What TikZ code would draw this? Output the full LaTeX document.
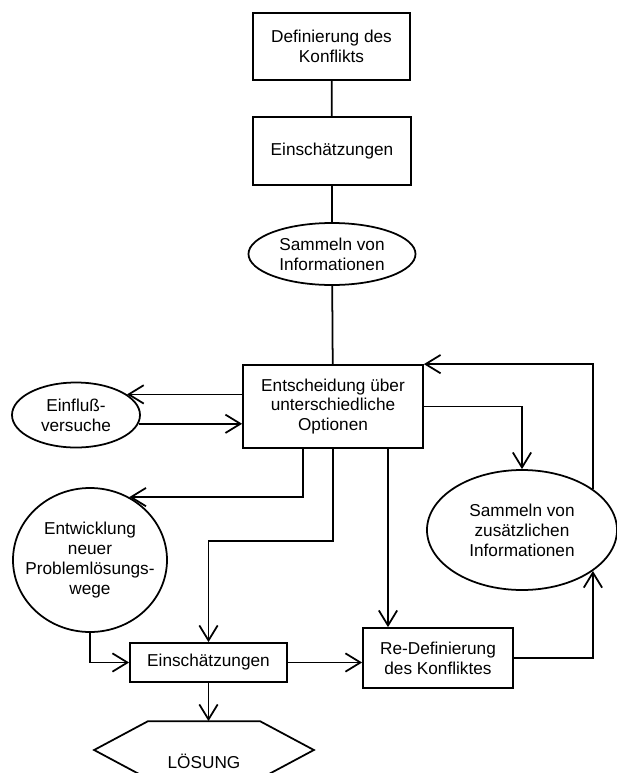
\documentclass[tikz,border=0pt]{standalone}
\usepackage{fontspec}
\setmainfont{Liberation Sans}
\usetikzlibrary{shapes.geometric,arrows.meta}

\begin{document}
\begin{tikzpicture}[x=0.03cm, y=-0.03cm, line width=1.5pt,
    font=\fontsize{14.7}{17}\selectfont,
    box/.style={draw, rectangle, align=center, inner sep=0pt},
    oval/.style={draw, ellipse, align=center, inner sep=0pt},
    arr/.style={-{Straight Barb[length=0.45cm, width=0.55cm]}}]
    \useasboundingbox (0,0) rectangle (617,773);
    \clip (0,0) rectangle (617,773);
    \node[box, minimum width=4.71cm, minimum height=2.01cm] (def) at (331.5,46.5) {Definierung des\\Konflikts};
    \node[box, minimum width=4.74cm, minimum height=2.04cm] (ein1) at (332,151) {Einschätzungen};
    \node[oval, minimum width=5.01cm, minimum height=1.86cm] (samm) at (332,254) {Sammeln von\\Informationen};
    \node[box, minimum width=5.4cm, minimum height=2.49cm] (ents) at (333,406.5) {Entscheidung über\\unterschiedliche\\Optionen};
    \node[oval, minimum width=3.84cm, minimum height=1.95cm] (einf) at (76,415) {Einfluß-\\versuche};
    \node[oval, minimum width=5.7cm, minimum height=3.6cm] (samz) at (522,530) {Sammeln von\\zusätzlichen\\Informationen};
    \node[oval, inner xsep=-0.4cm, minimum width=4.62cm, minimum height=4.32cm] (entw) at (90,560) {Entwicklung\\neuer\\Problemlösungs-\\wege};
    \node[box, minimum width=4.71cm, minimum height=1.17cm] (ein2) at (208.5,662.5) {Einschätzungen};
    \node[box, minimum width=4.5cm, minimum height=1.8cm] (redef) at (438,658) {Re-Definierung\\des Konfliktes};
    \node[box, draw=none, text height=1.08cm, text depth=0pt, minimum width=3.3cm, minimum height=1.68cm] (loes) at (204,750) {LÖSUNG};
    \draw (loes.north west) -- (loes.north east) -- ([xshift=1.62cm]loes.east) -- (loes.south east)
        -- (loes.south west) -- ([xshift=-1.62cm]loes.west) -- cycle;

    \draw (def) -- (ein1);
    \draw (ein1) -- (samm);
    \draw (samm) -- (ents);
    \draw[arr] (ents.west |- einf.22) -- (einf.22);
    \draw[arr] (einf.-8) -- (ents.west |- einf.-8);
    \draw[arr] (samz.30) |- (ents.north east);
    \draw[arr] (ents.east) -| (samz.north);
    \draw[arr] ([xshift=-0.9cm]ents.south) |- (entw.58);
    \draw[arr] (ents.south) -- ++(0,92) -| (ein2.north);
    \draw[arr] ([xshift=1.65cm]ents.south) -- ([xshift=1.65cm]ents.south |- redef.north);
    \draw[arr] (entw.south) |- (ein2.west);
    \draw[arr] (ein2.east) -- (ein2.east -| redef.west);
    \draw[arr] (redef.east) -| (samz.-30);
    \draw[arr] (ein2.south) -- (ein2.south |- loes.north);
\end{tikzpicture}
\end{document}
